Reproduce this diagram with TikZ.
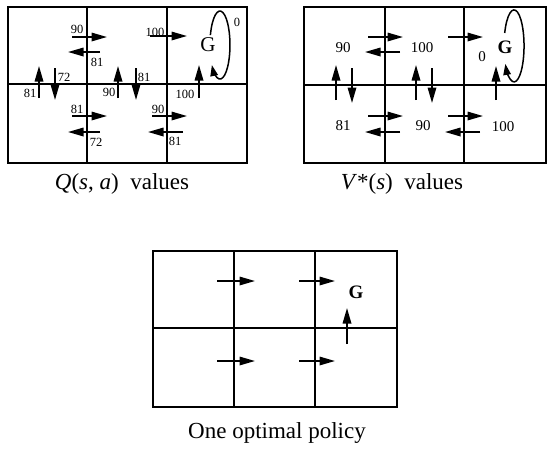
\documentclass[tikz,border=0pt]{standalone}
\usepackage{fontspec}
\setmainfont{Liberation Serif}
\usetikzlibrary{arrows.meta}
\begin{document}
\begin{tikzpicture}[x=1pt,y=-1pt,
  gridline/.style={line width=1.8pt},
  arr/.style={line width=1.7pt,-{Triangle[length=15.5pt,width=8.5pt]}},
  looparr/.style={line width=1.5pt,-{Triangle[length=11pt,width=7.5pt]}},
  lbl/.style={font=\fontsize{12.5}{12.5}\selectfont, inner sep=0pt},
  val/.style={font=\fontsize{15}{15}\selectfont, inner sep=0pt},
  goal/.style={font=\fontsize{21}{21}\selectfont, inner sep=0pt},
  bgoal/.style={font=\fontsize{19}{19}\selectfont\bfseries, inner sep=0pt},
  captext/.style={font=\fontsize{23}{23}\selectfont, anchor=base, inner sep=0pt}]
\useasboundingbox (0,0) rectangle (554,453);

% ---------- Q(s,a) grid ----------
\draw[gridline] (8,7) rectangle (247,163);
\draw[gridline] (87,7) -- (87,163) (167,7) -- (167,163) (8,84) -- (247,84);
% top row
\draw[arr] (72,37) -- (107,37);
\node[lbl] (q1) at (77,29) {90};
\draw[arr] (100,52) -- (68,52);
\node[lbl] (q2) at (97,62) {81};
\draw[arr] (150,36) -- (187,36);
\node[lbl] (q3) at (155,32) {100};
\node[goal] (qG) at (208,45) {G};
\draw[looparr] (210.4,35.1) arc[start angle=163, end angle=-144, x radius=10pt, y radius=34pt];
\node[lbl] (q0) at (237,22) {0};
\draw[arr] (199,98) -- (199,65);
\node[lbl] (q4) at (185,94) {100};
% vertical pairs
\draw[arr] (39,98) -- (39,66);
\node[lbl] (q5) at (30,93) {81};
\draw[arr] (55,68) -- (55,100);
\node[lbl] (q6) at (64,77) {72};
\draw[arr] (118,98) -- (118,66);
\node[lbl] (q7) at (109,92) {90};
\draw[arr] (136,68) -- (136,100);
\node[lbl] (q8) at (144,77) {81};
% bottom row
\draw[arr] (72,116) -- (107,116);
\node[lbl] (q9) at (77,109) {81};
\draw[arr] (100,132) -- (68,132);
\node[lbl] (q10) at (96,142) {72};
\draw[arr] (152,116) -- (187,116);
\node[lbl] (q11) at (158,109) {90};
\draw[arr] (183,132) -- (148,132);
\node[lbl] (q12) at (175,141) {81};

\node[captext] (capQ) at (122,189) {\textit{Q}(\textit{s}, \textit{a})\ \ values};

% ---------- V*(s) grid ----------
\draw[gridline] (304,7) rectangle (546,163);
\draw[gridline] (385,7) -- (385,163) (464,7) -- (464,163) (304,85) -- (546,85);
\node[val] (v1) at (343,48) {90};
\node[val] (v2) at (422,48) {100};
\node[val] (v3) at (482,57) {0};
\node[bgoal] (vG) at (505,47) {G};
\draw[looparr] (504.7,33) arc[start angle=159, end angle=-150, x radius=10pt, y radius=36pt];
\draw[arr] (368,37) -- (403,37);
\draw[arr] (400,52) -- (365,52);
\draw[arr] (448,37) -- (483,37);
\draw[arr] (336,100) -- (336,65);
\draw[arr] (352,68) -- (352,103);
\draw[arr] (416,100) -- (416,65);
\draw[arr] (432,68) -- (432,103);
\draw[arr] (496,100) -- (496,66);
\node[val] (v4) at (343,126) {81};
\node[val] (v5) at (423,126) {90};
\node[val] (v6) at (503,127) {100};
\draw[arr] (368,116) -- (403,116);
\draw[arr] (400,132) -- (365,132);
\draw[arr] (448,116) -- (483,116);
\draw[arr] (480,132) -- (445,132);

\node[captext] (capV) at (402,189) {\textit{V}*(\textit{s})\ \ values};

% ---------- policy grid ----------
\draw[gridline] (153,251) rectangle (397,407);
\draw[gridline] (234,251) -- (234,407) (315,251) -- (315,407) (153,328) -- (397,328);
\draw[arr] (217,281) -- (255,281);
\draw[arr] (299,281) -- (335,281);
\draw[arr] (217,361) -- (255,361);
\draw[arr] (299,361) -- (335,361);
\node[bgoal] (pG) at (356,292) {G};
\draw[arr] (347,344) -- (347,308);

\node[captext] (capP) at (277,438) {One optimal policy};
\end{tikzpicture}
\end{document}
